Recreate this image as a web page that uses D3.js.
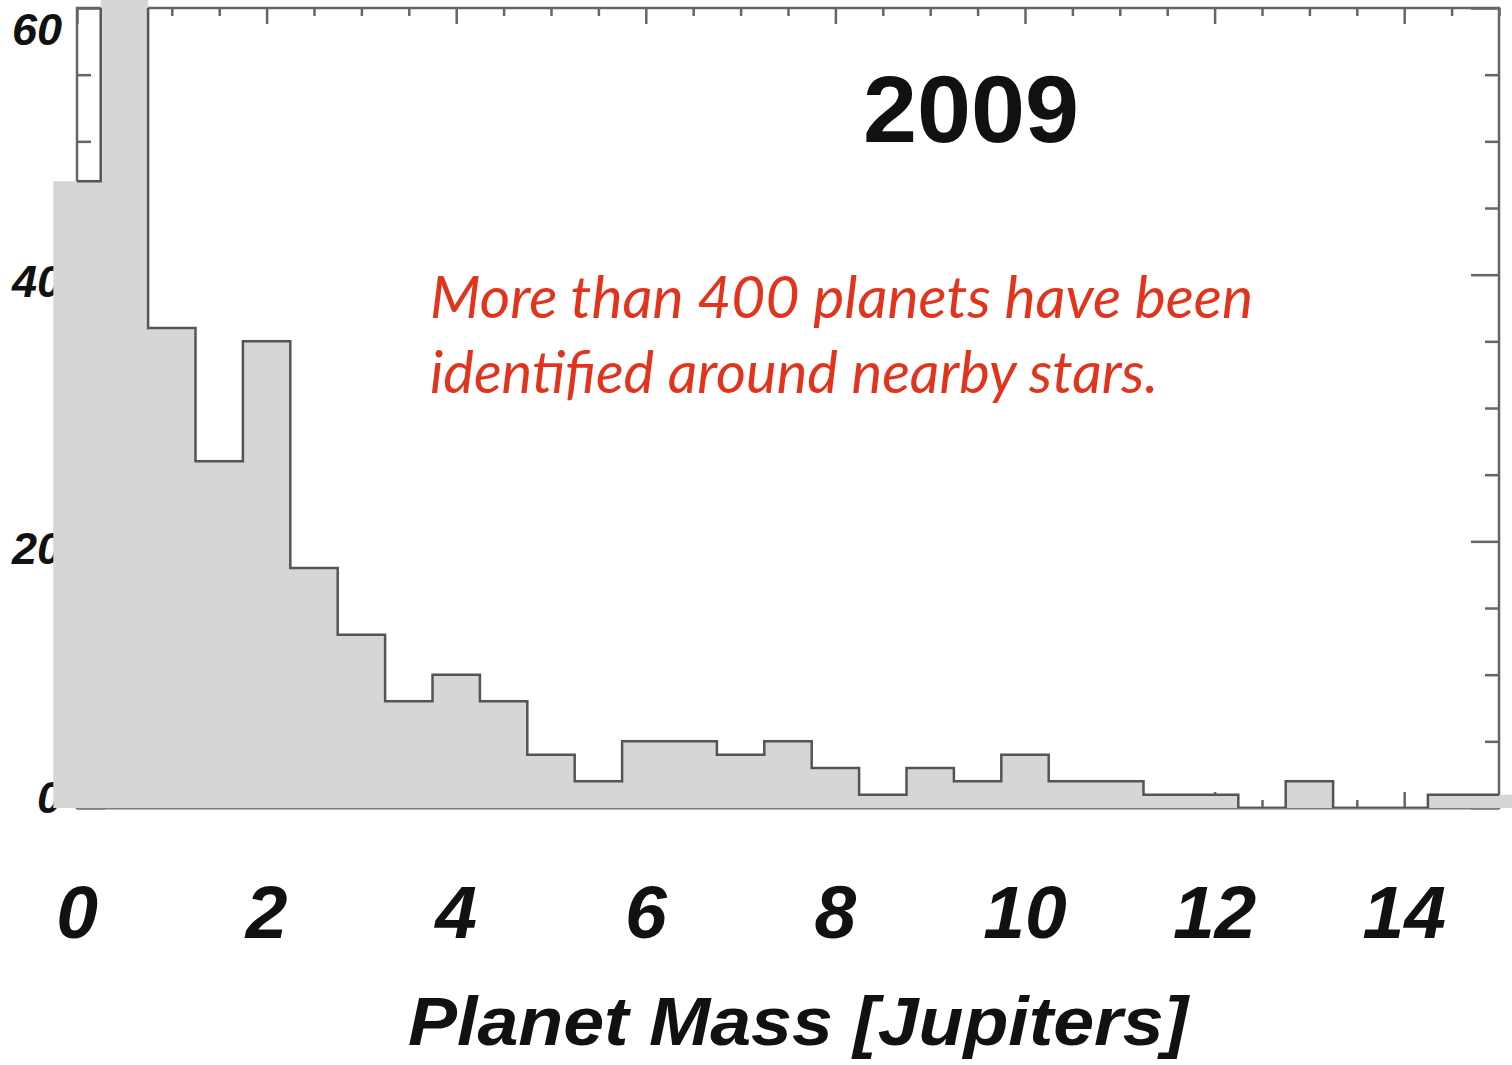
<!DOCTYPE html>
<html lang="en">
<head>
<meta charset="UTF-8">
<title>Planet Mass Histogram 2009</title>
<script src="https://d3js.org/d3.v7.min.js"></script>
<style>
  html, body { margin: 0; padding: 0; background: #fff; overflow: hidden; }
  svg { display: block; }
  .lbl { font-family: "Liberation Sans", Arial, sans-serif; font-weight: bold; font-style: italic; fill: #111; }
</style>
</head>
<body>
<div id="viz"></div>
<script>
// Histogram bins: centre in Jupiter masses (width 0.5) and planet counts
var binCenters = [0, 0.5, 1, 1.5, 2, 2.5, 3, 3.5, 4, 4.5, 5, 5.5, 6, 6.5, 7, 7.5,
                  8, 8.5, 9, 9.5, 10, 10.5, 11, 11.5, 12, 12.5, 13, 13.5, 14, 14.5, 15];
var binCounts  = [47, 70, 36, 26, 35, 18, 13, 8, 10, 8, 4, 2, 5, 5, 4, 5,
                  3, 1, 3, 2, 4, 2, 2, 1, 1, 0, 2, 0, 0, 1, 1];
var binWidth = 0.5;

// Axis ticks and labels
var xMajor = [0, 2, 4, 6, 8, 10, 12, 14];
var xMinor = d3.range(0, 15.01, 0.5).filter(v => v % 2 !== 0);
var yMajor = [0, 20, 40, 60];
var yMinor = d3.range(0, 60.01, 5).filter(v => v % 20 !== 0);

var yearLabel = "2009";
var noteLines = ["More than 400 planets have been", "identified around nearby stars."];
var xTitle = "Planet Mass [Jupiters]";

var W = 1512, H = 1065;
var svg = d3.select("#viz").append("svg")
    .attr("width", W)
    .attr("height", H);

var x = d3.scaleLinear().domain([0, 15]).range([77, 1499]);
var y = d3.scaleLinear().domain([0, 60]).range([808, 8]);

var frameColor = "#666";

// frame
svg.append("rect")
    .attr("x", x(0)).attr("y", y(60))
    .attr("width", x(15) - x(0)).attr("height", y(0) - y(60))
    .attr("fill", "none")
    .attr("stroke", frameColor)
    .attr("stroke-width", 2.5);

// ticks (all pointing inward)
function ticks(axis, values, size, tx, ty) {
  var g = svg.append("g")
      .attr("transform", "translate(" + tx + "," + ty + ")")
      .call(axis.tickValues(values).tickSize(size).tickFormat(""));
  g.select(".domain").remove();
  g.selectAll("line").attr("stroke", frameColor).attr("stroke-width", 2.5);
}
ticks(d3.axisBottom(x), xMajor, 16, 0, y(60));
ticks(d3.axisBottom(x), xMinor, 8, 0, y(60));
ticks(d3.axisTop(x), xMajor, 16, 0, y(0));
ticks(d3.axisTop(x), xMinor, 8, 0, y(0));
ticks(d3.axisRight(y), yMajor, 28, x(0), 0);
ticks(d3.axisRight(y), yMinor, 14, x(0), 0);
ticks(d3.axisLeft(y), yMajor, 28, x(15), 0);
ticks(d3.axisLeft(y), yMinor, 14, x(15), 0);

// y tick labels (drawn before the fill, which hides part of them)
svg.selectAll(".ylab")
  .data(yMajor)
  .enter().append("text")
    .attr("class", "lbl ylab")
    .attr("x", 62)
    .attr("y", d => Math.min(797, Math.max(29, y(d) + 6)))
    .attr("dy", "0.36em")
    .attr("text-anchor", "end")
    .style("font-size", "45px")
    .text(d => d);

// x tick labels
svg.selectAll(".xlab")
  .data(xMajor)
  .enter().append("text")
    .attr("class", "lbl xlab")
    .attr("x", d => x(d))
    .attr("y", 938)
    .attr("text-anchor", "middle")
    .style("font-size", "75px")
    .text(d => d);

// histogram
var pts = binCenters.map((c, i) => [c - binWidth / 2, binCounts[i]]);
pts.push([binCenters[binCenters.length - 1] + binWidth / 2, binCounts[binCounts.length - 1]]);

var area = d3.area()
    .x(d => x(d[0]))
    .y0(y(0))
    .y1(d => y(d[1]))
    .curve(d3.curveStepAfter);

var line = d3.line()
    .x(d => x(d[0]))
    .y(d => y(d[1]))
    .curve(d3.curveStepAfter);

svg.append("path")
    .datum(pts)
    .attr("d", area)
    .attr("fill", "#d6d6d6");

svg.append("clipPath").attr("id", "plotClip")
  .append("rect")
    .attr("x", x(0)).attr("y", y(60))
    .attr("width", x(15) - x(0)).attr("height", y(0) - y(60));

svg.append("path")
    .datum(pts)
    .attr("d", line)
    .attr("clip-path", "url(#plotClip)")
    .attr("fill", "none")
    .attr("stroke", "#555")
    .attr("stroke-width", 2.5);

// faint bottom frame edge showing beneath the fill
svg.append("line")
    .attr("x1", x(0)).attr("x2", x(15))
    .attr("y1", y(0) + 1).attr("y2", y(0) + 1)
    .attr("stroke", "#999")
    .attr("stroke-width", 1.2);

// year
svg.append("text")
    .attr("x", 863)
    .attr("y", 142)
    .attr("textLength", 216)
    .attr("lengthAdjust", "spacingAndGlyphs")
    .style("font-family", "'Liberation Sans', Arial, sans-serif")
    .style("font-weight", "bold")
    .style("font-size", "94px")
    .style("fill", "#111")
    .text(yearLabel);

// red note
var noteWidths = [823, 728];
svg.selectAll(".note")
  .data(noteLines)
  .enter().append("text")
    .attr("class", "note")
    .attr("x", 430)
    .attr("y", (d, i) => 318 + i * 75)
    .attr("textLength", (d, i) => noteWidths[i])
    .attr("lengthAdjust", "spacingAndGlyphs")
    .style("font-family", "Lato, 'Open Sans', sans-serif")
    .style("font-style", "italic")
    .style("font-size", "58px")
    .style("fill", "#e2341d")
    .text(d => d);

// x axis title
svg.append("text")
    .attr("class", "lbl")
    .attr("x", 408)
    .attr("y", 1045)
    .attr("textLength", 780)
    .attr("lengthAdjust", "spacingAndGlyphs")
    .style("font-size", "68px")
    .text(xTitle);
</script>
</body>
</html>
